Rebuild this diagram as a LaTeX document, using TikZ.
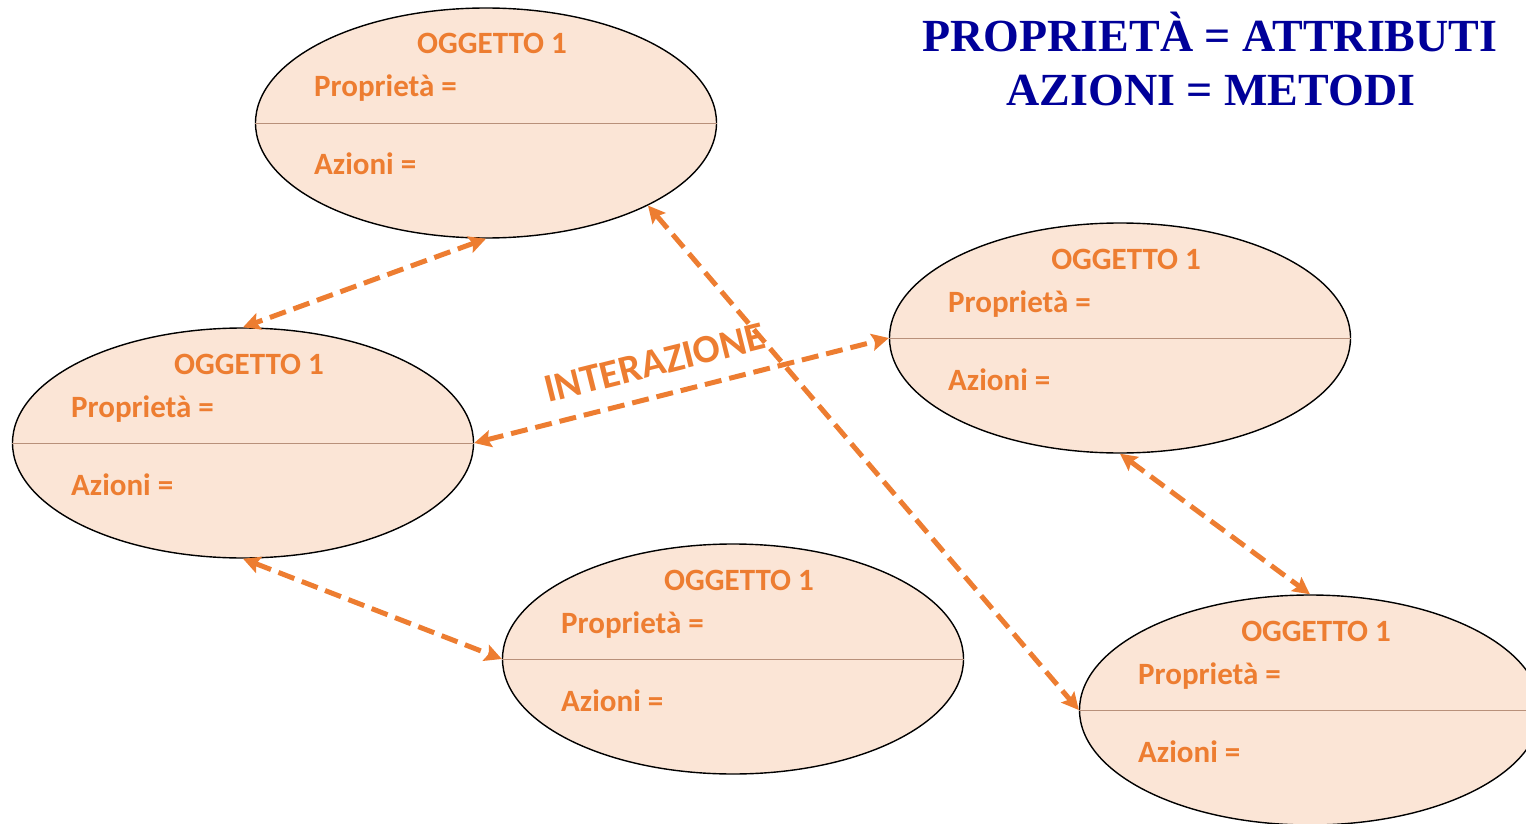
\documentclass[tikz,border=0pt]{standalone}
\usepackage{fontspec}
\setmainfont{Carlito}
\newfontfamily\titlefont{Liberation Serif}
\usetikzlibrary{shapes.geometric,arrows.meta,calc}
\definecolor{objorange}{HTML}{ED7D31}
\definecolor{objfill}{HTML}{FBE5D6}
\definecolor{objline}{HTML}{B8907A}
\definecolor{titleblue}{HTML}{000099}
\tikzset{
  objell/.style={ellipse, draw=black, line width=1.4pt, fill=objfill,
    minimum width=461pt, minimum height=230pt, inner sep=0pt},
  objtitle/.style={anchor=base, inner sep=0pt, text=objorange,
    font=\bfseries\fontsize{31}{36}\selectfont},
  objtext/.style={anchor=base west, inner sep=0pt, text=objorange,
    font=\bfseries\fontsize{31}{36}\selectfont},
  conn/.style={draw=objorange, line width=5pt, dash pattern=on 17pt off 8pt,
    {Stealth[length=17pt,width=17pt,inset=3pt]}-{Stealth[length=17pt,width=17pt,inset=3pt]}},
  bigtitle/.style={anchor=base, inner sep=0pt, text=titleblue,
    font=\titlefont\bfseries\fontsize{46}{52}\selectfont},
}
\newcommand{\oggetto}[3]{%
  \node[objell] (#1) at (#2,#3) {};
  \draw[objline, line width=0.9pt] (#1.west) -- (#1.east);
  \node[objtitle] (#1t) at ($(#1)+(6,-69)$) {OGGETTO 1};
  \node[objtext] (#1p) at ($(#1)+(-172,-26)$) {Proprietà =};
  \node[objtext] (#1a) at ($(#1)+(-172,52)$) {Azioni =};
}
\begin{document}
\begin{tikzpicture}[x=1pt,y=-1pt]
\useasboundingbox (0,0) rectangle (1526,824);
\clip (0,0) rectangle (1526,824);
\oggetto{ea}{486}{123}
\oggetto{eb}{243}{443}
\oggetto{ec}{1120}{338}
\oggetto{ed}{733}{659}
\oggetto{ee}{1310}{710}
\node[bigtitle] (tl1) at (1210,52) {PROPRIETÀ = ATTRIBUTI};
\node[bigtitle] (tl2) at (1211,106) {AZIONI = METODI};
\node[text=objorange, font=\bfseries\fontsize{40}{46}\selectfont, rotate=14, inner sep=0pt] (inter) at (655,363) {INTERAZIONE};
\draw[conn] (ea.south) -- (eb.north);
\draw[conn] (ea.-27) -- (ee.west);
\draw[conn] (eb.east) -- (ec.west);
\draw[conn] (ec.south) -- (ee.north);
\draw[conn] (eb.south) -- (ed.west);
\end{tikzpicture}
\end{document}
